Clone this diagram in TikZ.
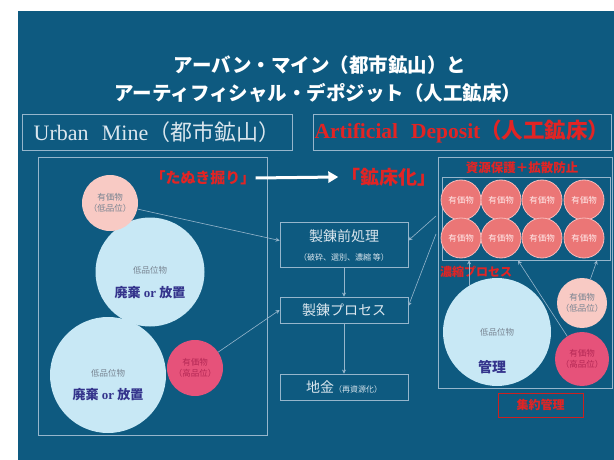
\documentclass[tikz,border=0pt]{standalone}
\usepackage{fontspec}
\setmainfont{Liberation Serif}
\newfontfamily\jp{Noto Sans CJK JP}
\usetikzlibrary{arrows.meta}
\definecolor{bg}{RGB}{14,90,128}
\definecolor{lineC}{RGB}{150,182,204}
\definecolor{txtL}{RGB}{218,230,238}
\definecolor{lblue}{RGB}{200,232,245}
\definecolor{pinkL}{RGB}{248,202,196}
\definecolor{hotpink}{RGB}{230,82,122}
\definecolor{salmon}{RGB}{235,118,118}
\definecolor{salmonB}{RGB}{248,185,185}
\definecolor{redT}{RGB}{226,36,36}
\definecolor{navyT}{RGB}{52,52,140}
\definecolor{grayT}{RGB}{120,132,145}
\definecolor{hpT}{RGB}{180,40,85}
\begin{document}
\begin{tikzpicture}[x=1pt,y=-1pt,
  titletext/.style={text=white, inner sep=0pt, font=\jp\bfseries\fontsize{19.5}{22}\selectfont},
  frame/.style={draw=lineC, line width=0.8pt},
  boxn/.style={frame, inner sep=0pt, align=center, text=txtL},
  circ/.style={circle, inner sep=0pt},
  ctext/.style={inner sep=0pt, align=center, text=grayT, font=\jp\fontsize{8.5}{11}\selectfont},
  btext/.style={inner sep=0pt, text=navyT, font=\bfseries\fontsize{13}{15}\selectfont},
  conn/.style={draw=lineC, line width=0.6pt, -{Stealth[length=4pt,width=4pt]}},
  redtext/.style={inner sep=0pt, text=redT, font=\jp\bfseries\fontsize{12}{14}\selectfont}
]
\useasboundingbox (0,0) rectangle (614,460);
\fill[white] (0,0) rectangle (614,460);
\fill[bg] (18,11) rectangle (614,460);

% title
\node[titletext] (t1) at (320,65) {アーバン・マイン（都市鉱山）と};
\node[titletext] (t2) at (318,93) {アーティフィシャル・デポジット（人工鉱床）};

% label boxes
\node[boxn, minimum width=270pt, minimum height=36pt, font=\fontsize{22}{24}\selectfont] (um) at (157,132)
  {Urban\hspace{0.6em}Mine{\jp （都市鉱山）}};
\node[boxn, minimum width=298pt, minimum height=36pt, text=redT, font=\bfseries\fontsize{21.5}{24}\selectfont] (ad) at (462,132)
  {Artificial\hspace{0.6em}Deposit{\jp （人工鉱床）}};

% left frame
\node[frame, minimum width=229pt, minimum height=278pt, inner sep=0pt] (lbox) at (152.5,296) {};

% left circles
\node[circ, fill=lblue, minimum size=109pt] (c1) at (150,272) {};
\node[circ, fill=lblue, minimum size=116pt] (c2) at (108,375) {};
\node[circ, fill=pinkL, minimum size=56pt] (pa) at (110,203) {};
\node[circ, fill=hotpink, minimum size=56pt] (hp) at (195,368) {};
\node[ctext] (pat) at (110,203) {有価物\\（低品位）};
\node[ctext, text=hpT] (hpt) at (195,368) {有価物\\（高品位）};
\node[ctext] (c1a) at (150,270) {低品位物};
\node[btext] (c1b) at (150,293) {{\jp 廃棄} or {\jp 放置}};
\node[ctext] (c2a) at (108,373) {低品位物};
\node[btext] (c2b) at (108,395) {{\jp 廃棄} or {\jp 放置}};

% tanuki / kosho
\node[inner sep=0pt, text=redT, font=\jp\bfseries\fontsize{15}{17}\selectfont] (tanuki) at (203,178) {「たぬき掘り」};
\node[inner sep=0pt, text=redT, font=\jp\bfseries\fontsize{19}{21}\selectfont] (kosho) at (389,177) {「鉱床化」};
\draw[white, line width=3pt, -{Triangle[length=10pt,width=11pt]}] (tanuki.east) -- ([xshift=-3pt]kosho.west);

% middle boxes
\node[boxn, minimum width=128pt, minimum height=45pt] (pre) at (344,244.5) {};
\node[inner sep=0pt, text=txtL, font=\jp\fontsize{14}{16}\selectfont] (pret) at (344,236) {製錬前処理};
\node[inner sep=0pt, text=txtL, font=\jp\fontsize{8}{10}\selectfont] (pres) at (344,257) {（破砕、選別、濃縮 等）};
\node[boxn, minimum width=128pt, minimum height=26pt, font=\jp\fontsize{14}{16}\selectfont] (proc) at (344,310) {製錬プロセス};
\node[boxn, minimum width=128pt, minimum height=26pt] (ingot) at (344,387)
  {{\jp\fontsize{14}{16}\selectfont 地金}{\jp\fontsize{8}{10}\selectfont （再資源化）}};
\draw[conn] (pre.south) -- (proc.north);
\draw[conn] (proc.south) -- (ingot.north);

% left connectors
\draw[conn] (pa) -- ([yshift=4pt]pre.west);
\draw[conn] (hp) -- (proc.west);

% right frame
\node[frame, minimum width=174pt, minimum height=231pt, inner sep=0pt] (rbox) at (525,272.5) {};
\node[frame, minimum width=168pt, minimum height=83pt, inner sep=0pt] (inner) at (526,218.5) {};
\node[inner sep=0pt, text=redT, font=\jp\bfseries\fontsize{12.5}{14}\selectfont] (hdr) at (522,168) {資源保護＋拡散防止};

% red circles
\foreach \i/\x in {1/461,2/501,3/542,4/584}{
  \node[circ, fill=salmon, draw=salmonB, line width=0.8pt, minimum size=40pt,
        text=white!92!red, font=\jp\fontsize{8.5}{10}\selectfont] (ra\i) at (\x,200) {有価物};
  \node[circ, fill=salmon, draw=salmonB, line width=0.8pt, minimum size=40pt,
        text=white!92!red, font=\jp\fontsize{8.5}{10}\selectfont] (rb\i) at (\x,238) {有価物};
}

\node[redtext, anchor=west] (nou) at (440,272) {濃縮プロセス};

% right circles
\node[circ, fill=lblue, minimum size=108pt] (bigR) at (497,332) {};
\node[ctext] (bRa) at (497,332) {低品位物};
\node[btext, font=\jp\bfseries\fontsize{14}{16}\selectfont] (bRb) at (492,367) {管理};
\node[circ, fill=pinkL, minimum size=50pt] (pR) at (582,303) {};
\node[ctext] (pRt) at (582,303) {有価物\\（低品位）};
\node[circ, fill=hotpink, minimum size=54pt] (hpR) at (582,359) {};
\node[ctext, text=hpT] (hpRt) at (582,359) {有価物\\（高品位）};

\coordinate (a2) at (518,260.5);
\coordinate (a3) at (597,260.5);
\draw[conn] (bigR.121) -- (bigR.121 |- inner.south);
\draw[conn] (hpR) -- (a2);
\draw[conn] (pR) -- (a3);

% right connectors to middle
\coordinate (r1) at (436,216);
\coordinate (r2) at (436,234);
\draw[conn] (r1) -- ([yshift=4pt]pre.east);
\draw[conn] (r2) -- ([yshift=4pt]proc.east);

% shuyaku kanri
\node[draw=redT!90!black, line width=1pt, minimum width=85pt, minimum height=24pt, inner sep=0pt,
      text=redT, font=\jp\bfseries\fontsize{12}{14}\selectfont] (shu) at (540.5,405) {集約管理};
\end{tikzpicture}
\end{document}
